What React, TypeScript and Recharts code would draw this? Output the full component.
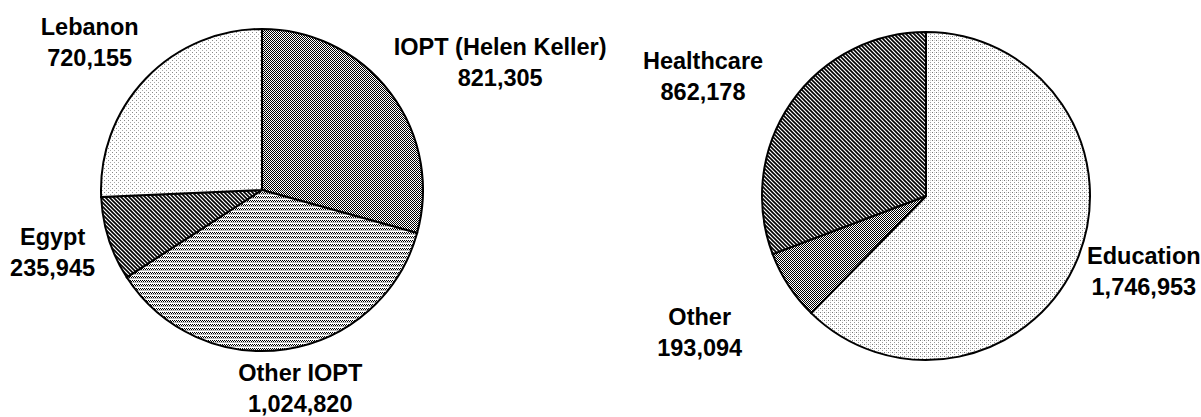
import React from "react";
import { PieChart, Pie, Cell } from "recharts";

// left pie: by region
const regionNames = ["IOPT (Helen Keller)", "Other IOPT", "Egypt", "Lebanon"];
const regionValues = [821305, 1024820, 235945, 720155];

// right pie: by sector
const sectorNames = ["Education", "Other", "Healthcare"];
const sectorValues = [1746953, 193094, 862178];

const regionFills = ["url(#checkDark)", "url(#rowDots)", "url(#hatch)", "url(#dotsLight)"];
const sectorFills = ["url(#dotsFine)", "url(#checkDark)", "url(#hatch)"];

// label nudges from the outer midpoint of each slice
const regionNudge = [
  [110, -30],
  [14, 39],
  [-56, 14],
  [-56, -36],
];
const sectorNudge = [
  [66, 13],
  [-89, 47],
  [-88, -26],
];

const RAD = Math.PI / 180;

function makeLabel(nudge: number[][]) {
  return (props: any) => {
    const { cx, cy, midAngle, outerRadius, index, name, value } = props;
    const x = cx + outerRadius * Math.cos(-midAngle * RAD) + nudge[index][0];
    const y = cy + outerRadius * Math.sin(-midAngle * RAD) + nudge[index][1];
    const style = {
      fontFamily: "'Liberation Sans', Arial, sans-serif",
      fontWeight: 700,
      fontSize: 23.5,
      fill: "#000",
    };
    return (
      <g>
        <text x={x} y={y - 15.5} textAnchor="middle" dominantBaseline="central" style={style}>
          {name}
        </text>
        <text x={x} y={y + 15.5} textAnchor="middle" dominantBaseline="central" style={style}>
          {value.toLocaleString("en-US")}
        </text>
      </g>
    );
  };
}

export default function App() {
  const regionData = regionNames.map((name, i) => ({ name, value: regionValues[i] }));
  const sectorData = sectorNames.map((name, i) => ({ name, value: sectorValues[i] }));

  return (
    <div style={{ position: "absolute", left: 0, top: 0, background: "#fff" }}>
      <PieChart width={1201} height={417} margin={{ top: 0, right: 0, bottom: 0, left: 0 }}>
        <defs>
          <pattern id="checkDark" width="2" height="2" patternUnits="userSpaceOnUse">
            <rect width="2" height="2" fill="#fff" />
            <rect x="0" y="0" width="1" height="1" fill="#000" />
            <rect x="1" y="1" width="1" height="1" fill="#000" />
          </pattern>
          <pattern id="rowDots" width="4" height="4" patternUnits="userSpaceOnUse">
            <rect width="4" height="4" fill="#fff" />
            <rect x="0" y="0" width="1" height="1" fill="#000" />
            <rect x="2" y="0" width="1" height="1" fill="#000" />
            <rect x="1" y="1" width="1" height="1" fill="#000" />
            <rect x="3" y="1" width="1" height="1" fill="#000" />
            <rect x="0" y="2" width="4" height="1" fill="#bbb" />
          </pattern>
          <pattern id="hatch" width="4" height="4" patternUnits="userSpaceOnUse">
            <rect width="4" height="4" fill="#fff" />
            <path d="M-1,-1 L5,5 M-1,3 L1,5 M3,-1 L5,1" stroke="#000" strokeWidth="1.6" />
          </pattern>
          <pattern id="dotsLight" width="4" height="4" patternUnits="userSpaceOnUse">
            <rect width="4" height="4" fill="#fff" />
            <rect x="0" y="0" width="1" height="1" fill="#888" />
            <rect x="2" y="2" width="1" height="1" fill="#aaa" />
          </pattern>
          <pattern id="dotsFine" width="4" height="4" patternUnits="userSpaceOnUse">
            <rect width="4" height="4" fill="#fff" />
            <rect x="0" y="0" width="1" height="1" fill="#777" />
            <rect x="2" y="2" width="1" height="1" fill="#999" />
            <rect x="2" y="0" width="1" height="1" fill="#ccc" />
          </pattern>
        </defs>
        <Pie
          data={regionData}
          dataKey="value"
          nameKey="name"
          cx={262}
          cy={190}
          outerRadius={161}
          startAngle={90}
          endAngle={-270}
          labelLine={false}
          label={makeLabel(regionNudge)}
          isAnimationActive={false}
        >
          {regionData.map((d, i) => (
            <Cell key={d.name} fill={regionFills[i]} stroke="#000" strokeWidth={2} />
          ))}
        </Pie>
        <Pie
          data={sectorData}
          dataKey="value"
          nameKey="name"
          cx={926}
          cy={196}
          outerRadius={164}
          startAngle={90}
          endAngle={-270}
          labelLine={false}
          label={makeLabel(sectorNudge)}
          isAnimationActive={false}
        >
          {sectorData.map((d, i) => (
            <Cell key={d.name} fill={sectorFills[i]} stroke="#000" strokeWidth={2} />
          ))}
        </Pie>
      </PieChart>
    </div>
  );
}
